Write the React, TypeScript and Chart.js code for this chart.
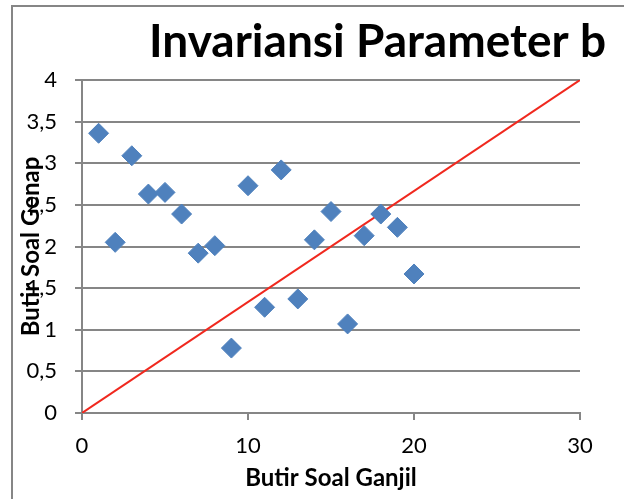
import React, { useEffect, useRef } from "react";
import { Chart, registerables } from "chart.js";

Chart.register(...registerables);

const TITLE = "Invariansi Parameter b";
const X_TITLE = "Butir Soal Ganjil";
const Y_TITLE = "Butir Soal Genap";

const itemNumbers = [1, 2, 3, 4, 5, 6, 7, 8, 9, 10, 11, 12, 13, 14, 15, 16, 17, 18, 19, 20];
const evenValues = [3.36, 2.05, 3.09, 2.63, 2.65, 2.39, 1.92, 2.01, 0.78, 2.73, 1.27, 2.92, 1.37, 2.08, 2.42, 1.07, 2.13, 2.39, 2.23, 1.67];
const refLineX = [0, 30];
const refLineY = [0, 4];

const X_MIN = 0, X_MAX = 30, X_STEP = 10;
const Y_MIN = 0, Y_MAX = 4, Y_STEP = 0.5;

const FONT = "Lato, 'Open Sans', sans-serif";
const GREY = "#868686";

export default function App() {
  const ref = useRef<HTMLCanvasElement | null>(null);

  useEffect(() => {
    const canvas = ref.current;
    if (!canvas) return;

    const decor = {
      id: "decor",
      afterDraw(chart: any) {
        const ctx = chart.ctx;
        ctx.save();
        ctx.strokeStyle = GREY;
        ctx.lineWidth = 2;
        ctx.strokeRect(12, 6, 800, 700);
        ctx.fillStyle = "#000";
        ctx.font = `bold 46px ${FONT}`;
        ctx.textAlign = "right";
        ctx.textBaseline = "alphabetic";
        ctx.fillText(TITLE, 606, 57);
        ctx.restore();
      },
    };

    const chart = new Chart(canvas, {
      type: "scatter",
      data: {
        datasets: [
          {
            type: "scatter",
            data: itemNumbers.map((x, i) => ({ x, y: evenValues[i] })),
            pointStyle: "rectRot",
            pointRadius: 10,
            backgroundColor: "#4F81BD",
            borderColor: "#4F81BD",
            borderWidth: 1,
          },
          {
            type: "line",
            data: refLineX.map((x, i) => ({ x, y: refLineY[i] })),
            borderColor: "#F0281E",
            borderWidth: 2,
            pointRadius: 0,
            fill: false,
          } as any,
        ],
      },
      options: {
        responsive: false,
        animation: false,
        devicePixelRatio: 1,
        layout: { padding: { left: 0, top: 80, right: 44, bottom: 0 } },
        plugins: {
          legend: { display: false },
          tooltip: { enabled: false },
          title: { display: false },
        },
        scales: {
          x: {
            type: "linear",
            min: X_MIN,
            max: X_MAX,
            afterFit(scale: any) {
              scale.height = 86;
            },
            ticks: {
              stepSize: X_STEP,
              color: "#000",
              padding: 13,
              font: { family: FONT, size: 22 },
              maxRotation: 0,
            },
            grid: {
              drawOnChartArea: false,
              drawTicks: true,
              tickLength: 7,
              color: GREY,
              lineWidth: 2,
            },
            border: { display: true, color: GREY, width: 2 },
            title: {
              display: true,
              text: X_TITLE,
              color: "#000",
              font: { family: FONT, size: 24, weight: "bold" },
              padding: { top: 0, bottom: 6 },
            },
          },
          y: {
            type: "linear",
            min: Y_MIN,
            max: Y_MAX,
            afterFit(scale: any) {
              scale.width = 82;
            },
            ticks: {
              stepSize: Y_STEP,
              color: "#000",
              padding: 18,
              font: { family: FONT, size: 22 },
              callback: (v: any) => String(v).replace(".", ","),
            },
            grid: {
              drawOnChartArea: true,
              drawTicks: true,
              tickLength: 7,
              color: GREY,
              lineWidth: 2,
            },
            border: { display: true, color: GREY, width: 2 },
            title: {
              display: true,
              text: Y_TITLE,
              color: "#000",
              font: { family: FONT, size: 24, weight: "bold" },
              padding: { top: 17, bottom: 0 },
            },
          },
        },
      },
      plugins: [decor],
    });

    return () => chart.destroy();
  }, []);

  return (
    <div style={{ position: "fixed", left: 0, top: 0, width: 624, height: 499, background: "#fff" }}>
      <canvas ref={ref} width={624} height={499} style={{ display: "block" }} />
    </div>
  );
}
